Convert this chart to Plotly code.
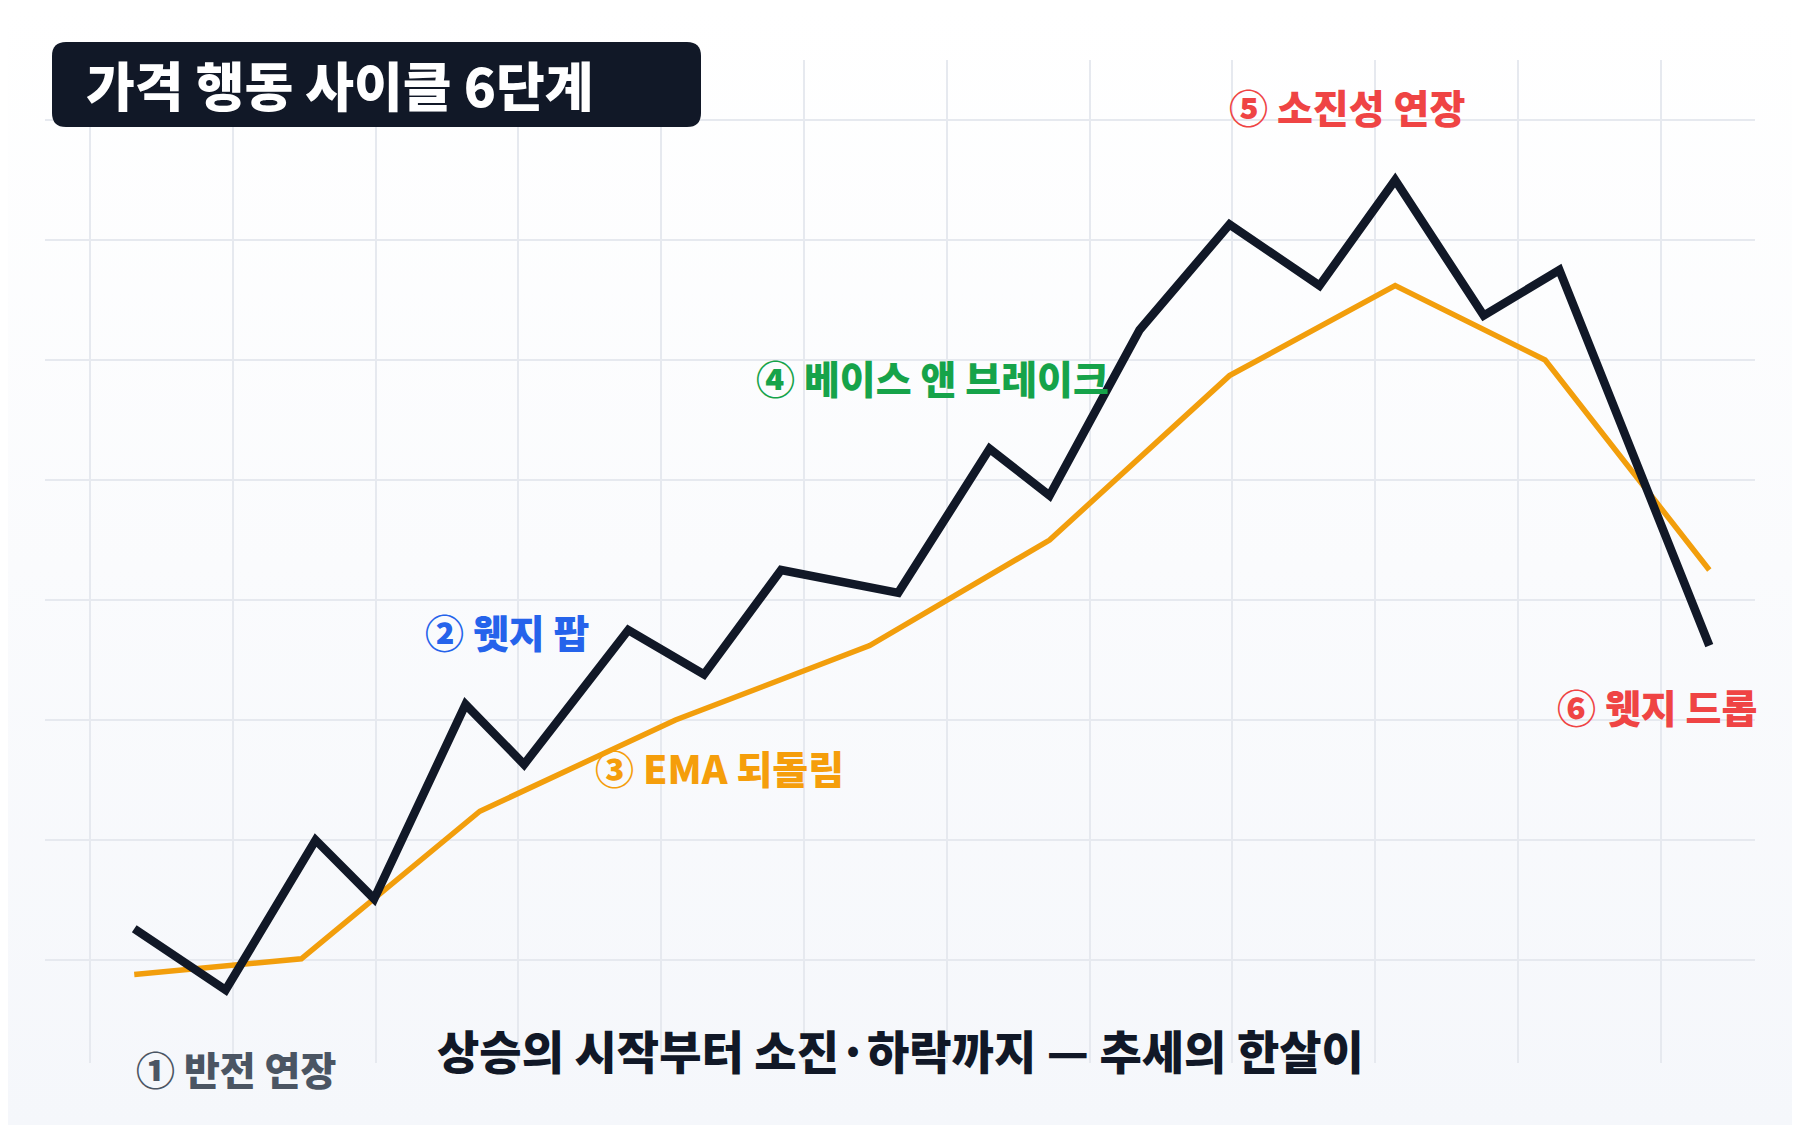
import base64
import plotly.graph_objects as go

# Price path (black) and EMA (orange)
price_x = [3.1, 9.5, 15.8, 19.9, 26.3, 30.4, 37.7, 43.0, 48.4, 56.6,
           63.0, 67.2, 73.5, 79.8, 86.1, 91.4, 97.6, 102.9, 113.4]
price_y = [2.6, -2.5, 10.0, 5.1, 21.3, 16.3, 27.5, 23.8, 32.5, 30.6,
           42.6, 38.7, 52.5, 61.3, 56.2, 65.0, 53.7, 57.5, 26.2]

ema_x = [3.1, 14.8, 27.3, 41.0, 54.6, 67.2, 79.8, 91.4, 101.9, 113.4]
ema_y = [-1.2, 0.1, 12.4, 20.0, 26.2, 35.0, 48.7, 56.2, 50.0, 32.5]

# Stage labels: text, anchor x, anchor y, colour
stage_text = ["① 반전 연장", "② 웻지 팝", "③ EMA 되돌림",
              "④ 베이스 앤 브레이크", "⑤ 소진성 연장", "⑥ 웻지 드롭"]
stage_x = [3.1, 23.3, 35.2, 46.5, 79.6, 102.6]
stage_y = [-9.0, 27.4, 16.1, 48.6, 71.2, 21.2]
stage_color = ["#4b5563", "#2563eb", "#f59e0b", "#16a34a", "#ef4444", "#ef4444"]

title_text = "가격 행동 사이클 6단계"
subtitle_text = "상승의 시작부터 소진·하락까지 — 추세의 한살이"

# page is 1800x1125; the html body adds an 8px margin
OFF = 8
W, H = 1800 - OFF, 1125 - OFF
ML, MR, MT, MB = 45 - OFF, 45, 60 - OFF, 62
FONT = "Noto Sans CJK KR"
Y_RANGE = [-8.58, 75]


def px_x(px):
    # page pixel -> paper x
    return (px - OFF - ML) / (W - ML - MR)


def px_y(py):
    # page pixel -> paper y
    return (OFF + H - MB - py) / (H - MT - MB)


fig = go.Figure()

fig.add_trace(go.Scatter(
    x=ema_x, y=ema_y, mode="lines",
    line=dict(color="#f29e0c", width=5.5),
    showlegend=False, hoverinfo="skip"
))
fig.add_trace(go.Scatter(
    x=price_x, y=price_y, mode="lines",
    line=dict(color="#111827", width=8.5),
    showlegend=False, hoverinfo="skip"
))

for t, x, y, c in zip(stage_text, stage_x, stage_y, stage_color):
    # labels below the visible y range would be hidden, so use the y domain
    fig.add_annotation(
        x=x, xref="x", yref="y domain",
        y=(y - Y_RANGE[0]) / (Y_RANGE[1] - Y_RANGE[0]),
        text=t, showarrow=False, xanchor="left", yanchor="middle",
        font=dict(family=FONT, size=39, color=c, weight=800)
    )

# subtitle at the bottom of the plot
fig.add_annotation(
    x=px_x(900), y=px_y(1049), xref="paper", yref="paper",
    text=subtitle_text, showarrow=False,
    xanchor="center", yanchor="middle",
    font=dict(family=FONT, size=46, color="#111827", weight=900)
)

# title badge (rounded dark box)
x0, x1, y0, y1, r = 52, 701, 42, 127, 14
path = (
    f"M {px_x(x0 + r)} {px_y(y0)} L {px_x(x1 - r)} {px_y(y0)} "
    f"Q {px_x(x1)} {px_y(y0)} {px_x(x1)} {px_y(y0 + r)} "
    f"L {px_x(x1)} {px_y(y1 - r)} "
    f"Q {px_x(x1)} {px_y(y1)} {px_x(x1 - r)} {px_y(y1)} "
    f"L {px_x(x0 + r)} {px_y(y1)} "
    f"Q {px_x(x0)} {px_y(y1)} {px_x(x0)} {px_y(y1 - r)} "
    f"L {px_x(x0)} {px_y(y0 + r)} "
    f"Q {px_x(x0)} {px_y(y0)} {px_x(x0 + r)} {px_y(y0)} Z"
)
fig.add_shape(type="path", path=path, xref="paper", yref="paper",
              fillcolor="#111827", line=dict(width=0), layer="above")
fig.add_annotation(
    x=px_x(84), y=px_y(84), xref="paper", yref="paper",
    text=title_text, showarrow=False,
    xanchor="left", yanchor="middle",
    font=dict(family=FONT, size=53, color="#ffffff", weight=900)
)

# soft vertical background gradient
svg = ('<svg xmlns="http://www.w3.org/2000/svg" width="100" height="100" preserveAspectRatio="none">'
       '<defs><linearGradient id="g" x1="0" y1="0" x2="0" y2="1">'
       '<stop offset="0" stop-color="#ffffff"/><stop offset="1" stop-color="#f5f7fb"/>'
       '</linearGradient></defs><rect width="100" height="100" fill="url(#g)"/></svg>')
bg_src = "data:image/svg+xml;base64," + base64.b64encode(svg.encode()).decode()
fig.add_layout_image(dict(
    source=bg_src, xref="paper", yref="paper",
    x=px_x(OFF), y=px_y(OFF), sizex=px_x(1800) - px_x(OFF), sizey=px_y(OFF) - px_y(1125),
    xanchor="left", yanchor="top", sizing="stretch", layer="below"
))

fig.update_layout(
    width=W, height=H,
    margin=dict(l=ML, r=MR, t=MT, b=MB),
    paper_bgcolor="#fafbfd",
    plot_bgcolor="rgba(0,0,0,0)",
    xaxis=dict(range=[-3.15, 116.6], dtick=10, tick0=0, showgrid=True,
               gridcolor="#e6e9ef", gridwidth=1.5, zeroline=False,
               showticklabels=False, showline=False),
    yaxis=dict(range=Y_RANGE, dtick=10, tick0=0, showgrid=True,
               gridcolor="#e6e9ef", gridwidth=1.5, zeroline=False,
               showticklabels=False, showline=False),
    showlegend=False,
)

fig.write_html("out.html")
